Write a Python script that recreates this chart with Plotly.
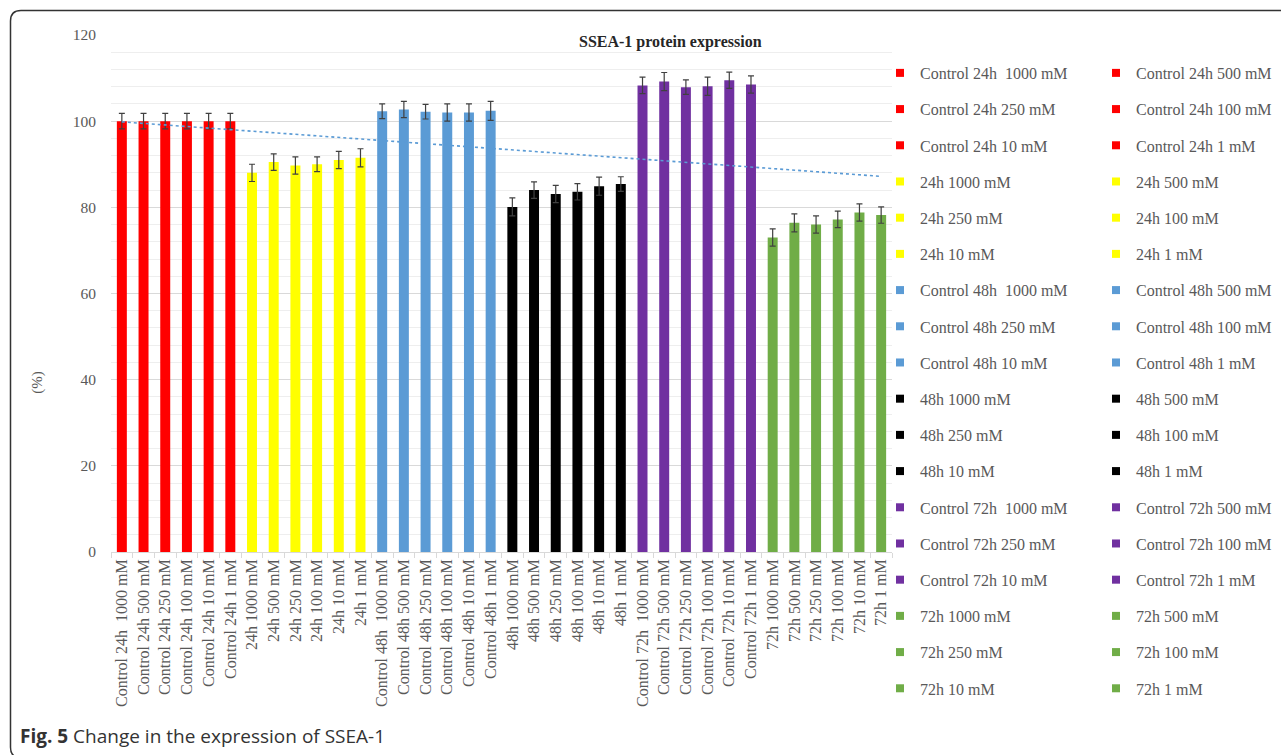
import numpy as np
import plotly.graph_objects as go

# ---------------- data ----------------
groups = ["Control 24h", "24h", "Control 48h", "48h", "Control 72h", "72h"]
doses = ["1000 mM", "500 mM", "250 mM", "100 mM", "10 mM", "1 mM"]
group_colors = ["#FF0000", "#FFFF00", "#5B9BD5", "#000000", "#7030A0", "#70AD47"]

control24_vals = [100.0, 100.0, 100.0, 100.0, 100.0, 100.0]
t24_vals = [88.0, 90.5, 89.7, 90.0, 91.0, 91.5]
control48_vals = [102.3, 102.7, 102.2, 102.0, 102.0, 102.4]
t48_vals = [80.1, 84.0, 83.1, 83.6, 84.9, 85.4]
control72_vals = [108.3, 109.2, 107.9, 108.1, 109.5, 108.5]
t72_vals = [73.0, 76.4, 76.0, 77.2, 78.8, 78.2]

control24_err = [1.8, 1.8, 1.8, 1.8, 1.8, 1.8]
t24_err = [2.0, 1.9, 2.0, 1.7, 2.0, 2.1]
control48_err = [1.7, 1.9, 1.7, 2.0, 2.0, 2.2]
t48_err = [2.1, 1.9, 2.0, 1.9, 2.1, 1.7]
control72_err = [1.9, 2.1, 1.7, 2.1, 1.9, 2.0]
t72_err = [2.0, 2.1, 2.0, 1.9, 2.0, 1.9]

group_vals = [control24_vals, t24_vals, control48_vals, t48_vals, control72_vals, t72_vals]
group_errs = [control24_err, t24_err, control48_err, t48_err, control72_err, t72_err]

title_text = "SSEA-1 protein expression"
y_title = "(%)"
caption = "<b>Fig. 5</b> Change in the expression of SSEA-1"


def make_label(g, d):
    # the 1000 mM control labels carry a double space in the original
    if g.startswith("Control") and d.startswith("1000"):
        return g + "\u00a0 " + d
    return g + " " + d


group_labels = [[make_label(g, d) for d in doses] for g in groups]
categories = [lab for labs in group_labels for lab in labs]
all_vals = [v for vals in group_vals for v in vals]

# ---------------- geometry helpers (pixel -> paper) ----------------
W, H = 1281, 755
L, R, T, B = 111, 1281 - 892, 35, 755 - 552.5
PW, PH = W - L - R, H - T - B


def px(xp):
    return (xp - L) / PW


def py(yp):
    return (H - B - yp) / PH


serif = "Liberation Serif, Times New Roman, serif"
grey = "#595959"

fig = go.Figure()

# bars
for labs, vals, errs, col in zip(group_labels, group_vals, group_errs, group_colors):
    fig.add_trace(go.Bar(
        x=labs, y=vals, width=0.46,
        marker=dict(color=col, line=dict(width=0)),
        error_y=dict(type="data", array=errs, visible=True, color="#404040",
                     thickness=1.2, width=3),
        showlegend=False, hoverinfo="x+y",
    ))

# linear trend line (dotted)
idx = np.arange(len(all_vals))
slope, intercept = np.polyfit(idx, np.array(all_vals), 1)
trend = slope * idx + intercept
fig.add_trace(go.Scatter(
    x=categories, y=trend, mode="lines",
    line=dict(color="#5B9BD5", width=1.6, dash="dot"),
    showlegend=False, hoverinfo="skip",
))

# legend entries (two columns, row-major)
entry_colors = [c for c in group_colors for _ in doses]
for i, (lab, col) in enumerate(zip(categories, entry_colors)):
    fig.add_trace(go.Scatter(
        x=[None], y=[None], mode="markers",
        marker=dict(symbol="square", size=8, color=col),
        name=lab, legendgroup=lab,
        legend="legend" if i % 2 == 0 else "legend2",
        showlegend=True,
    ))

legend_common = dict(
    xanchor="left", yanchor="top", traceorder="grouped", tracegroupgap=12.4,
    font=dict(family=serif, size=16, color=grey), bgcolor="rgba(0,0,0,0)",
    itemwidth=30, orientation="v", maxheight=740,
)

fig.update_layout(
    width=W, height=H,
    margin=dict(l=L, r=R, t=T, b=B, autoexpand=False),
    paper_bgcolor="white", plot_bgcolor="white",
    barmode="overlay",
    showlegend=True,
    legend=dict(x=px(880), y=py(56), **legend_common),
    legend2=dict(x=px(1096), y=py(56), **legend_common),
    xaxis=dict(
        type="category", categoryorder="array", categoryarray=categories,
        range=[-0.5, len(categories) - 0.5],
        showline=True, linecolor="#d9d9d9", linewidth=1,
        ticks="outside", tickson="boundaries", ticklen=5, tickcolor="#d9d9d9",
        tickangle=-90, tickfont=dict(family=serif, size=16, color=grey),
        showgrid=False, zeroline=False, automargin=False,
    ),
    yaxis=dict(
        range=[0, 120], dtick=20, tick0=0,
        showgrid=True, gridcolor="#d9d9d9", gridwidth=1,
        minor=dict(dtick=4, showgrid=True, gridcolor="#eeeeee", gridwidth=1),
        ticks="", showline=False, zeroline=False,
        tickfont=dict(family=serif, size=15.5, color=grey),
        ticklabelstandoff=14, automargin=False,
    ),
    annotations=[
        dict(text="<b>" + title_text + "</b>", xref="paper", yref="paper",
             x=px(670), y=py(42), xanchor="center", yanchor="middle", showarrow=False,
             font=dict(family=serif, size=16, color="#262626")),
        dict(text=y_title, xref="paper", yref="paper", x=px(38), y=py(383),
             xanchor="center", yanchor="middle", textangle=-90, showarrow=False,
             font=dict(family=serif, size=15, color=grey)),
        dict(text=caption, xref="paper", yref="paper", x=px(18), y=py(737),
             xanchor="left", yanchor="middle", showarrow=False,
             font=dict(family="Open Sans, sans-serif", size=19, color="#333333")),
    ],
    shapes=[
        dict(type="path", xref="paper", yref="paper",
             path=(f"M {px(1300)} {py(10.5)} L {px(21)} {py(10.5)} "
                   f"Q {px(10.5)} {py(10.5)} {px(10.5)} {py(21)} "
                   f"L {px(10.5)} {py(748)} "
                   f"Q {px(10.5)} {py(758.5)} {px(21)} {py(758.5)} "
                   f"L {px(1300)} {py(758.5)}"),
             line=dict(color="#333333", width=1.5), layer="above"),
    ],
)

fig.write_html(
    "out.html",
    config={"displayModeBar": False},
    post_script="document.body.style.margin='0px';document.body.style.overflow='hidden';",
)
